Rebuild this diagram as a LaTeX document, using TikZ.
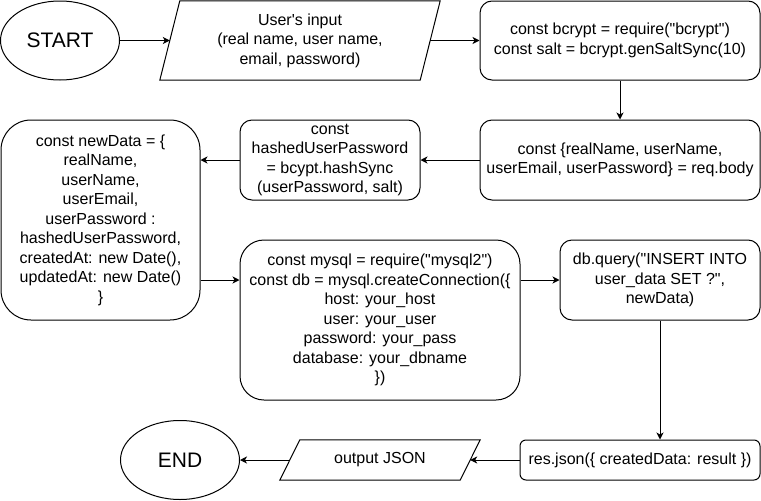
\documentclass[tikz,border=0pt]{standalone}
\usepackage{fontspec}
\setmainfont{Liberation Sans}[Ligatures=TeXOff]
\usetikzlibrary{shapes.geometric,arrows.meta}
\begin{document}
\begin{tikzpicture}[x=1pt,y=-1pt,
  every node/.style={font=\fontsize{16}{19.5}\selectfont, align=center, inner sep=2pt},
  line/.style={line width=1pt},
  term/.style={ellipse, draw, line width=1pt, minimum width=119pt, minimum height=79pt, font=\fontsize{21}{24}\selectfont},
  box/.style={draw, line width=1pt, rounded corners=#1},
  paraframe/.style={line width=1pt},
  arr/.style={line width=1pt, -{Stealth[length=7pt,width=7pt,inset=2pt]}}]
\useasboundingbox (0,0) rectangle (761,501);
% nodes
\node[term] (start) at (60,40.5) {START};
\node[minimum width=260pt, minimum height=79pt] (inp) at (300,40.5) {User's input\\(real name, user name,\\email, password)};
\node[box=12pt, minimum width=280pt, minimum height=79pt] (b1) at (620,40.5) {const bcrypt = require("bcrypt")\\const salt = bcrypt.genSaltSync(10)};
\node[box=12pt, minimum width=280pt, minimum height=80pt] (b2) at (620,160) {const \{realName, userName,\\userEmail, userPassword\} = req.body};
\node[box=12pt, minimum width=180pt, minimum height=80pt] (hash) at (330,160) {const\\hashedUserPassword\\= bcypt.hashSync\\(userPassword, salt)};
\node[box=30pt, minimum width=199pt, minimum height=200pt] (nd) at (100.5,220) {const newData = \{\\realName,\\userName,\\userEmail,\\userPassword :\\hashedUserPassword,\\createdAt: new Date(),\\updatedAt: new Date()\\\}};
\node[box=24pt, minimum width=280pt, minimum height=160pt] (my) at (380,320) {const mysql = require("mysql2")\\const db = mysql.createConnection(\{\\host: your\_host\\user: your\_user\\password: your\_pass\\database: your\_dbname\\\})};
\node[box=12pt, minimum width=200pt, minimum height=80pt] (dbq) at (660,280) {db.query("INSERT INTO\\user\_data SET ?",\\newData)};
\node[box=6pt, minimum width=240pt, minimum height=40pt] (res) at (640,460) {res.json(\{ createdData: result \})};
\node[minimum width=180pt, minimum height=40pt] (out) at (380,460) {output JSON};
\node[term] (end) at (180,460) {END};
% parallelogram outlines
\draw[paraframe] ([xshift=10pt]inp.north west) -- ([xshift=10pt]inp.north east) -- ([xshift=-10pt]inp.south east) -- ([xshift=-10pt]inp.south west) -- cycle;
\draw[paraframe] ([xshift=10pt]out.north west) -- ([xshift=10pt]out.north east) -- ([xshift=-10pt]out.south east) -- ([xshift=-10pt]out.south west) -- cycle;
% connectors
\draw[arr] (start.east) -- (inp.west);
\draw[arr] (inp.east) -- (b1.west);
\draw[arr] (b1.south) -- (b2.north);
\draw[arr] (b2.west) -- (hash.east);
\draw[arr] (hash.west) -- (hash.west -| nd.east);
\draw[arr] (nd.east |- dbq.west) -- (dbq.west -| my.west);
\draw[arr] (my.east |- dbq.west) -- (dbq.west);
\draw[arr] (dbq.south) -- (dbq.south |- res.north);
\draw[arr] (res.west) -- (out.east);
\draw[arr] (out.west) -- (end.east);
\end{tikzpicture}
\end{document}
